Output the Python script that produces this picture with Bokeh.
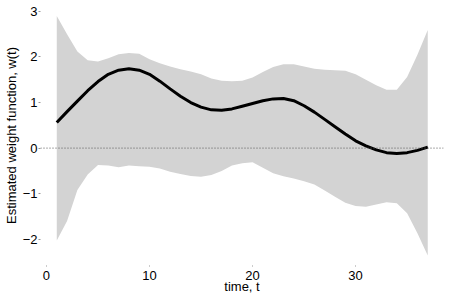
from bokeh.plotting import figure
from bokeh.models import Span, FixedTicker, Range1d, ColumnDataSource
from bokeh.embed import file_html
from bokeh.resources import INLINE

t = list(range(1, 38))
w_mean = [0.56, 0.80, 1.03, 1.26, 1.46, 1.62, 1.71, 1.74, 1.71, 1.62,
          1.47, 1.30, 1.14, 1.00, 0.90, 0.84, 0.83, 0.86, 0.92, 0.98,
          1.04, 1.08, 1.09, 1.04, 0.93, 0.79, 0.63, 0.47, 0.31, 0.16,
          0.05, -0.04, -0.10, -0.12, -0.10, -0.05, 0.02]
w_upper = [2.90, 2.50, 2.12, 1.93, 1.90, 1.97, 2.06, 2.09, 2.07, 1.95,
           1.86, 1.79, 1.73, 1.68, 1.62, 1.53, 1.48, 1.47, 1.48, 1.55,
           1.67, 1.78, 1.84, 1.84, 1.79, 1.74, 1.72, 1.71, 1.70, 1.62,
           1.50, 1.38, 1.28, 1.28, 1.56, 2.05, 2.59]
w_lower = [-2.03, -1.60, -0.92, -0.58, -0.37, -0.38, -0.42, -0.38, -0.40, -0.41,
           -0.45, -0.52, -0.57, -0.61, -0.63, -0.59, -0.50, -0.38, -0.33, -0.31,
           -0.43, -0.55, -0.62, -0.67, -0.73, -0.80, -0.93, -1.07, -1.20, -1.27,
           -1.29, -1.24, -1.19, -1.21, -1.43, -1.87, -2.36]
x_ticks = [0, 10, 20, 30]
y_ticks = [-2, -1, 0, 1, 2, 3]
x_label = "time, t"
y_label = "Estimated weight function, w(t)"

src = ColumnDataSource(dict(t=t, mean=w_mean, upper=w_upper, lower=w_lower))

FONT = "Liberation Sans"

p = figure(width=449, height=299, output_backend="svg", toolbar_location=None,
           x_range=Range1d(-0.58, 38.53), y_range=Range1d(-2.577, 3.13),
           min_border_top=5, min_border_right=6, min_border_left=39, min_border_bottom=34)
p.outline_line_color = None
p.xgrid.visible = False
p.ygrid.visible = False
p.background_fill_color = "white"
p.border_fill_color = "white"

p.varea(x="t", y1="lower", y2="upper", source=src, fill_color="#d3d3d3")
p.add_layout(Span(location=0, dimension="width", line_color="#555555",
                  line_width=1, line_dash="1 2"))
p.line(x="t", y="mean", source=src, line_color="black", line_width=3)

for ax in (p.xaxis[0], p.yaxis[0]):
    ax.axis_line_color = None
    ax.major_tick_line_color = "#999999"
    ax.minor_tick_line_color = None
    ax.major_tick_in = 0
    ax.major_label_text_font = FONT
    ax.major_label_text_font_size = "13px"
    ax.major_label_text_color = "black"
    ax.axis_label_text_font = FONT
    ax.axis_label_text_font_size = "13px"
    ax.axis_label_text_font_style = "normal"
    ax.axis_label_text_color = "black"

p.xaxis[0].major_tick_out = 1
p.xaxis[0].major_label_standoff = 4
p.xaxis[0].axis_label_standoff = -4
p.yaxis[0].major_tick_out = 2
p.yaxis[0].major_label_standoff = 1
p.yaxis[0].axis_label_standoff = 1

p.xaxis[0].ticker = FixedTicker(ticks=x_ticks)
p.yaxis[0].ticker = FixedTicker(ticks=y_ticks)
p.yaxis[0].major_label_overrides = {v: (str(v).replace("-", "\u2212")) for v in y_ticks}
p.xaxis[0].axis_label = x_label
p.yaxis[0].axis_label = y_label

open("out.html", "w").write(file_html(p, INLINE))
